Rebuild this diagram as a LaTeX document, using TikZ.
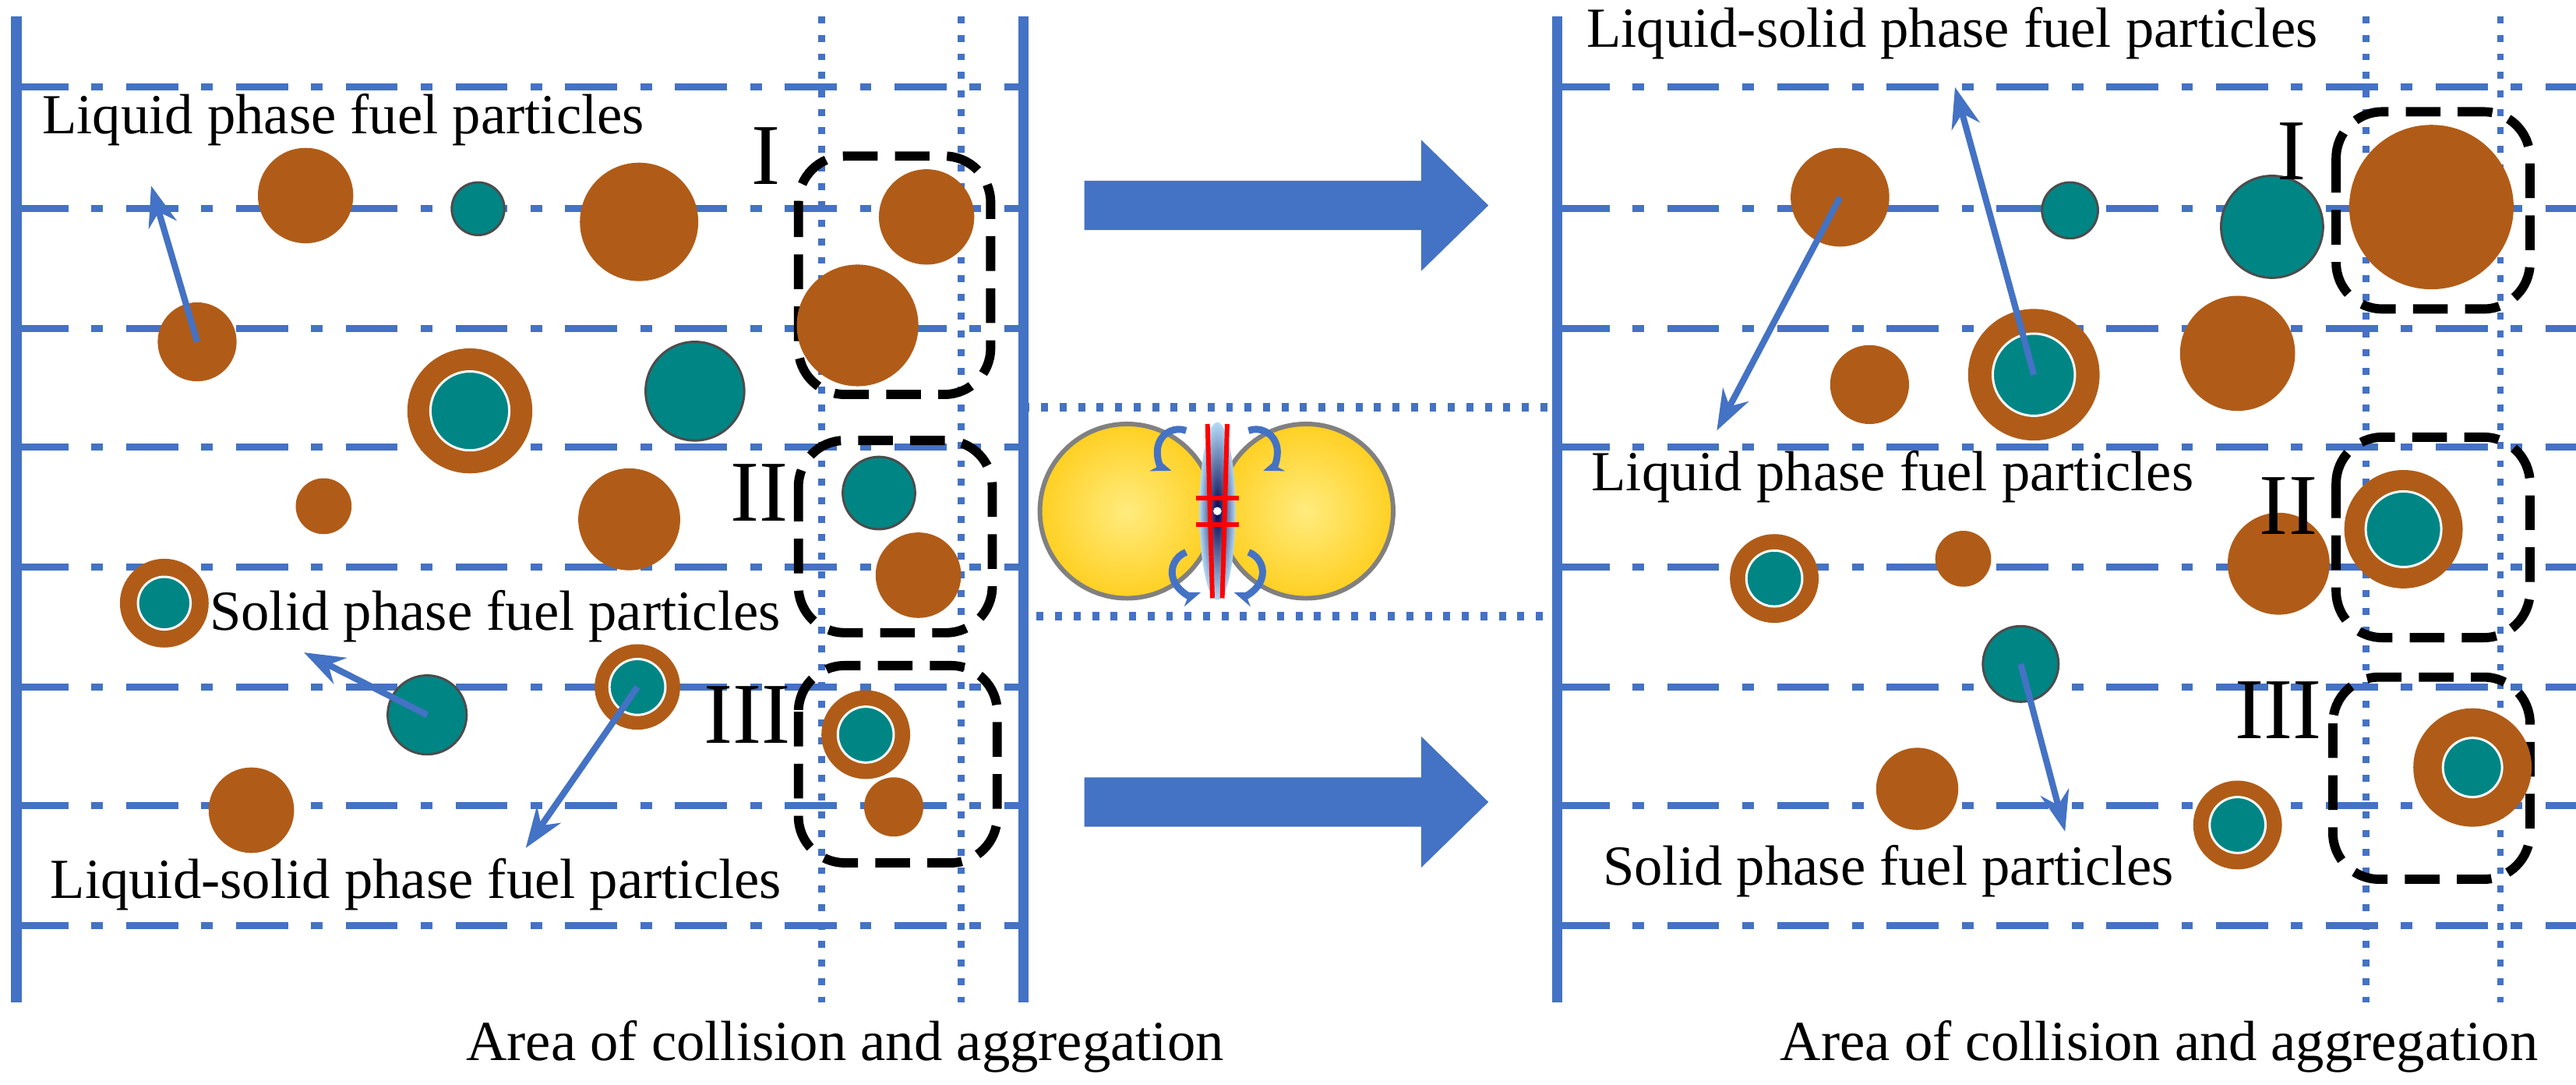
\documentclass[tikz,border=0pt]{standalone}
\usepackage{fontspec}
\setmainfont{Liberation Serif}
\usetikzlibrary{arrows.meta}
\definecolor{lineblue}{RGB}{68,114,196}
\definecolor{fuelbrown}{RGB}{176,92,24}
\definecolor{fuelteal}{RGB}{0,133,133}
\definecolor{dropyellow}{RGB}{255,222,40}
\definecolor{gapblue}{RGB}{40,150,230}
\newcommand{\fuelring}[4]{% name, position, outer, inner
  \node[brownp, sz=#3] (#1) at #2 {};
  \node[tealp, draw=white, sz=#4] at #2 {};}
\newcommand{\bigarrow}[1]{% vertical centre of the arrow
  \fill[lineblue] (660,#1-15) -- (865,#1-15) -- (865,#1-40) -- (906,#1)
    -- (865,#1+40) -- (865,#1+15) -- (660,#1+15) -- cycle;}
\begin{document}
\begin{tikzpicture}
        [x=0.01cm, y=-0.01cm,
        sz/.style={minimum size=#1*0.1mm},
        brownp/.style={circle, fill=fuelbrown, inner sep=0pt},
        tealp/.style={circle, fill=fuelteal, draw=black!70, thin, inner sep=0pt},
        grid/.style={lineblue, line width=1.2pt, dash pattern=on 9pt off 4pt on 2pt off 4pt},
        wall/.style={lineblue, line width=1.8pt},
        zone/.style={lineblue, line width=1.2pt, dotted},
        group/.style={draw=black, line width=1.6pt, dash pattern=on 6pt off 3pt, rounded corners=8pt},
        label/.style={font=\fontsize{9.8}{11}\selectfont, inner sep=0pt, anchor=west},
        roman/.style={font=\fontsize{15}{16}\selectfont, inner sep=0pt},
        pointer/.style={lineblue, line width=1.1pt, -{Stealth[length=7pt,width=5pt]}},
        drop/.style={circle, inner color=dropyellow!60!white, outer color=dropyellow!85!orange,
          draw=gray, thick, sz=106, inner sep=0pt},
        swirl/.style={lineblue, line width=1.2pt, -{Stealth[length=3.5pt]}}]

    \useasboundingbox (0,0) rectangle (1568,660);

    % grid lines and walls
    \foreach \y in {53,127,200,272,345,418,490,563} {
      \draw[grid] (10,\y) -- (623,\y);
      \draw[grid] (948,\y) -- (1568,\y);
    }
    \foreach \x in {500,585,1440,1522}
      \draw[zone] (\x,10) -- (\x,610);
    \foreach \x in {10,623,948}
      \draw[wall] (\x,10) -- (\x,610);

    % left panel
    \node[brownp, sz=58] (l1) at (186,119) {};
    \node[tealp, sz=32] (l2) at (291,127) {};
    \node[brownp, sz=72] (l3) at (389,135) {};
    \node[brownp, sz=48] (l4) at (120,208) {};
    \fuelring{l5}{(286,250)}{76}{48}
    \node[tealp, sz=60] (l6) at (423,238) {};
    \node[brownp, sz=34] (l7) at (197,308) {};
    \node[brownp, sz=62] (l8) at (383,316) {};
    \fuelring{l9}{(100,367)}{54}{32}
    \node[tealp, sz=48] (l10) at (260,435) {};
    \fuelring{l11}{(388,418)}{52}{34}
    \node[brownp, sz=52] (l12) at (153,493) {};

    \draw[group] (486,95) rectangle (603,240);
    \node[brownp, sz=58] (g1a) at (564,132) {};
    \node[brownp, sz=74] (g1b) at (522,198) {};
    \draw[group] (486,268) rectangle (604,385);
    \node[tealp, sz=44] (g2a) at (535,300) {};
    \node[brownp, sz=52] (g2b) at (559,350) {};
    \draw[group] (486,405) rectangle (607,525);
    \fuelring{g3a}{(527,447)}{54}{34}
    \node[brownp, sz=36] (g3b) at (544,491) {};

    \node[roman] (rl1) at (466,95) {I};
    \node[roman] (rl2) at (462,300) {II};
    \node[roman] (rl3) at (455,435) {III};

    \node[label] (tl1) at (25,73) {Liquid phase fuel particles};
    \node[label] (tl2) at (127,375) {Solid phase fuel particles};
    \node[label] (tl3) at (30,538) {Liquid-solid phase fuel particles};
    \coordinate (pl1) at (92,113);
    \coordinate (pl2) at (185,397);
    \coordinate (pl3) at (320,516);
    \draw[pointer] (l4.center) -- (pl1);
    \draw[pointer] (l10.center) -- (pl2);
    \draw[pointer] (l11.center) -- (pl3);

    % middle: transition and droplet collision
    \bigarrow{125}
    \bigarrow{488}
    \draw[zone, line width=1.5pt] (623,248) rectangle (948,375);
    \node[drop] (d1) at (686,311) {};
    \node[drop] (d2) at (795,311) {};
    \shade[inner color=black!70!blue, outer color=gapblue!35] (741,311) ellipse (1.1mm and 5.4mm);
    \draw[red, thick] (735,258) -- (738,364);
    \draw[red, thick] (747,258) -- (744,364);
    \draw[red, thick] (728,303) -- (754,303);
    \draw[red, thick] (728,319) -- (754,319);
    \draw[swirl] (722,262) arc (70:250:1.3mm);
    \draw[swirl] (760,262) arc (110:-70:1.3mm);
    \draw[swirl] (722,336) arc (110:290:1.3mm);
    \draw[swirl] (760,336) arc (70:-110:1.3mm);
    \node[circle, fill=white, sz=5, inner sep=0pt] (gap) at (741,311) {};

    % right panel
    \node[label] (tr1) at (965,20) {Liquid-solid phase fuel particles};
    \node[brownp, sz=60] (r1) at (1120,120) {};
    \node[tealp, sz=34] (r2) at (1260,128) {};
    \node[tealp, sz=62] (r3) at (1383,138) {};
    \node[brownp, sz=48] (r4) at (1138,234) {};
    \fuelring{r5}{(1238,228)}{80}{50}
    \node[brownp, sz=70] (r6) at (1362,215) {};
    \node[label] (tr2) at (968,290) {Liquid phase fuel particles};
    \fuelring{r7}{(1080,352)}{54}{34}
    \node[brownp, sz=34] (r8) at (1195,340) {};
    \node[brownp, sz=62] (r9) at (1387,343) {};
    \node[tealp, sz=46] (r10) at (1230,404) {};
    \node[brownp, sz=50] (r11) at (1167,480) {};
    \fuelring{r12}{(1362,502)}{54}{34}
    \node[label] (tr3) at (975,530) {Solid phase fuel particles};

    \draw[group] (1422,68) rectangle (1540,188);
    \node[brownp, sz=100] (h1) at (1480,126) {};
    \draw[group] (1422,266) rectangle (1540,388);
    \fuelring{h2}{(1463,322)}{72}{46}
    \draw[group] (1420,412) rectangle (1540,535);
    \fuelring{h3}{(1505,467)}{72}{36}

    \node[roman] (rr1) at (1395,92) {I};
    \node[roman] (rr2) at (1393,308) {II};
    \node[roman] (rr3) at (1387,432) {III};

    \coordinate (pr1) at (1045,262);
    \coordinate (pr2) at (1190,53);
    \coordinate (pr3) at (1257,506);
    \draw[pointer] (r1.center) -- (pr1);
    \draw[pointer] (r5.center) -- (pr2);
    \draw[pointer] (r10.center) -- (pr3);

    \node[label] (ax1) at (283,637) {Area of collision and aggregation};
    \node[label] (ax2) at (1083,637) {Area of collision and aggregation};
\end{tikzpicture}
\end{document}
